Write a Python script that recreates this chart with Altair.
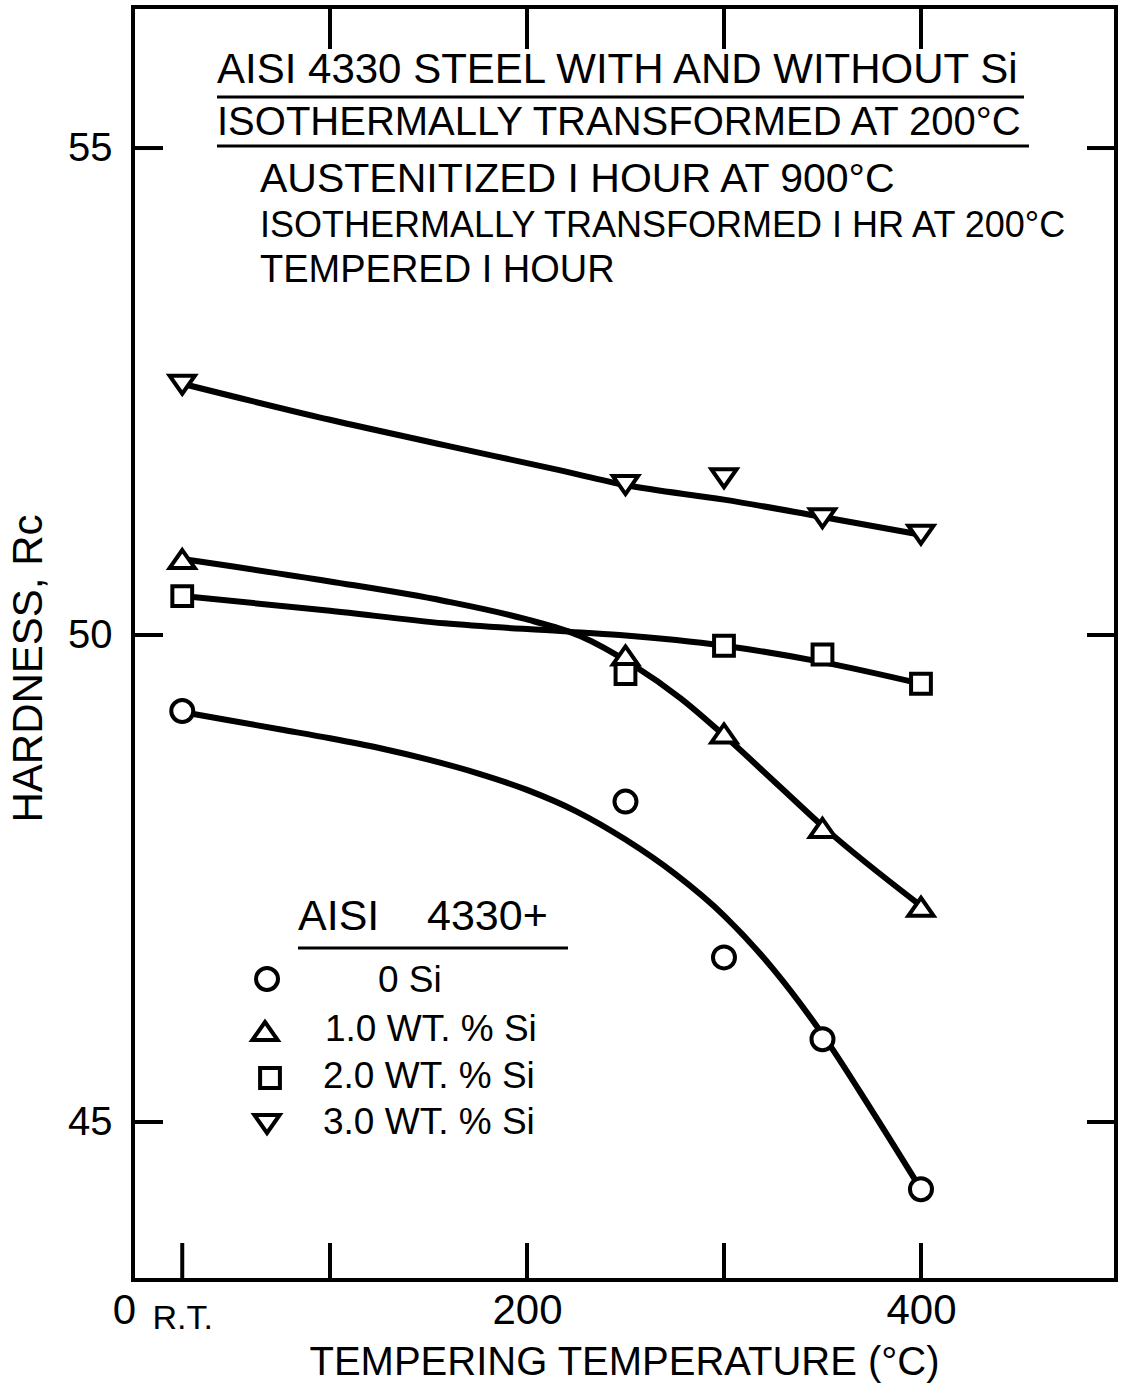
import altair as alt
import pandas as pd

FONT = "Liberation Sans"

# ---------------- data ----------------
temps = [25, 250, 300, 350, 400]          # tempering temperature, R.T. ~ 25 C
series_names = ["0 Si", "1.0 WT. % Si", "2.0 WT. % Si", "3.0 WT. % Si"]
hard_0si = [49.22, 48.29, 46.69, 45.85, 44.31]
hard_1si = [50.78, 49.79, 48.99, 48.02, 47.21]
hard_2si = [50.40, 49.60, 49.89, 49.80, 49.50]
hard_3si = [52.57, 51.54, 51.61, 51.20, 51.03]

# hand-drawn smooth curves through the points
curve_0si_x = [25, 50, 75, 100, 125, 150, 175, 200, 225, 250, 275, 300, 325, 350, 375, 400]
curve_0si_y = [49.21, 49.12, 49.03, 48.94, 48.84, 48.72, 48.58, 48.41, 48.19, 47.90, 47.55,
               47.12, 46.57, 45.90, 45.12, 44.31]
curve_1si_x = [25, 100, 158, 198, 227, 254, 278, 300, 328, 351, 400]
curve_1si_y = [50.78, 50.55, 50.35, 50.17, 49.99, 49.69, 49.35, 48.97, 48.45, 48.02, 47.22]
curve_2si_x = [25, 100, 158, 217, 247, 300, 348, 400]
curve_2si_y = [50.40, 50.25, 50.12, 50.04, 50.00, 49.89, 49.73, 49.50]
curve_3si_x = [25, 100, 158, 217, 250, 300, 348, 400]
curve_3si_y = [52.58, 52.21, 51.95, 51.69, 51.54, 51.39, 51.22, 51.03]

x_label_values = [0, 25, 200, 400]
x_bottom_ticks = [25, 100, 200, 300, 400]
x_top_ticks = [100, 200, 300, 400]
y_tick_values = [45, 50, 55]

title_lines = [
    "AISI 4330 STEEL WITH AND WITHOUT Si",
    "ISOTHERMALLY TRANSFORMED AT 200°C",
    "AUSTENITIZED I HOUR AT 900°C",
    "ISOTHERMALLY TRANSFORMED I HR AT 200°C",
    "TEMPERED I HOUR",
]
legend_title = "AISI\u00a0\u00a0\u00a0\u00a04330+"

# ---------------- tables ----------------
hards = [hard_0si, hard_1si, hard_2si, hard_3si]
pts = pd.DataFrame(
    [{"t": t, "h": h, "series": s} for s, hs in zip(series_names, hards) for t, h in zip(temps, hs)]
)
curves = [(curve_0si_x, curve_0si_y), (curve_1si_x, curve_1si_y),
          (curve_2si_x, curve_2si_y), (curve_3si_x, curve_3si_y)]
lines = pd.DataFrame(
    [{"t": t, "h": h, "series": s} for s, (cx, cy) in zip(series_names, curves) for t, h in zip(cx, cy)]
)

W, H = 983, 1273
xscale = alt.Scale(domain=[0, 499], nice=False, zero=False)
yscale = alt.Scale(domain=[43.378, 56.448], nice=False, zero=False)

tri_up = "M0,-0.82L1.15,0.82L-1.15,0.82Z"
tri_dn = "M0,0.82L1.15,-0.82L-1.15,-0.82Z"
sq = "M-0.9,-0.9H0.9V0.9H-0.9Z"
shapes = ["circle", tri_up, sq, tri_dn]

x_axis = alt.Axis(
    values=x_label_values, title="TEMPERING TEMPERATURE (°C)", grid=False, ticks=False, tickSize=0,
    domain=False, labelFlush=False, labelOverlap=False, labelBound=False,
    labelExpr="datum.value == 25 ? 'R.T.' : datum.label",
    labelFont=FONT, labelColor="black", labelBaseline="top",
    labelFontSize={"condition": {"test": "datum.value == 25", "value": 34}, "value": 42},
    labelOffset={"condition": {"test": "datum.value == 0", "value": -9}, "value": 0},
    labelPadding={"condition": {"test": "datum.value == 25", "value": 21}, "value": 10},
    titleFont=FONT, titleFontSize=40, titleFontWeight="normal", titleColor="black",
    titleX=491, titleY=82, titleBaseline="middle", titleAlign="center",
)
y_axis = alt.Axis(
    values=y_tick_values, format="d", title="HARDNESS, Rc", grid=False, ticks=False, tickSize=0,
    domain=False,
    labelFont=FONT, labelFontSize=40, labelColor="black", labelPadding=21, labelBaseline="middle",
    titleFont=FONT, titleFontSize=42, titleFontWeight="normal", titleColor="black",
    titleX=-105, titleY=661, titleAngle=270, titleAlign="center", titleBaseline="middle",
)

line_layer = alt.Chart(lines).mark_line(color="black", strokeWidth=6, interpolate="monotone").encode(
    x=alt.X("t:Q", scale=xscale, axis=x_axis),
    y=alt.Y("h:Q", scale=yscale, axis=y_axis),
    detail="series:N",
    order="t:Q",
)

point_layer = alt.Chart(pts).mark_point(
    fill="white", stroke="black", strokeWidth=4, opacity=1, fillOpacity=1, size=484
).encode(
    x=alt.X("t:Q", scale=xscale),
    y=alt.Y("h:Q", scale=yscale),
    shape=alt.Shape("series:N", scale=alt.Scale(domain=series_names, range=shapes), legend=None),
)

one = alt.Data(values=[{}])


def vrule_ticks(vals, y0, y1):
    df = pd.DataFrame({"t": vals})
    return alt.Chart(df).mark_rule(color="black", strokeWidth=4).encode(
        x=alt.X("t:Q", scale=xscale), y=alt.value(y0), y2=alt.value(y1))


def hrule_ticks(vals, x0, x1):
    df = pd.DataFrame({"h": vals})
    return alt.Chart(df).mark_rule(color="black", strokeWidth=4).encode(
        y=alt.Y("h:Q", scale=yscale), x=alt.value(x0), x2=alt.value(x1))


def txt(text, x, y, size):
    return alt.Chart(one).mark_text(
        text=text, align="left", baseline="alphabetic", font=FONT, fontSize=size, color="black"
    ).encode(x=alt.value(x), y=alt.value(y))


def uline(x0, x1, y, w=3):
    return alt.Chart(one).mark_rule(color="black", strokeWidth=w).encode(
        x=alt.value(x0), x2=alt.value(x1), y=alt.value(y))


def legend_symbol(shape, x, y):
    return alt.Chart(one).mark_point(
        shape=shape, fill="white", stroke="black", strokeWidth=4, opacity=1, fillOpacity=1, size=484
    ).encode(x=alt.value(x), y=alt.value(y))


# legend rows (pixel layout relative to plot origin)
legend_sym_x = [134, 132, 137, 134]
legend_row_y = [979, 1028, 1075, 1121]
legend_lbl_x = [245, 192, 190, 190]
legend_layers = []
for name, shp, sx, ry, lx in zip(series_names, shapes, legend_sym_x, legend_row_y, legend_lbl_x):
    legend_layers.append(legend_symbol(shp, sx, ry - 7 + (3 if shp != "circle" else 0)))
    legend_layers.append(txt(name, lx, ry + 6, 37))

layers = [
    line_layer,
    point_layer,
    vrule_ticks(x_bottom_ticks, H, H - 37),
    vrule_ticks(x_top_ticks, 0, 42),
    hrule_ticks(y_tick_values, 0, 30),
    hrule_ticks(y_tick_values, W, W - 29),
    txt(title_lines[0], 84, 76, 42),
    uline(84, 891, 90),
    txt(title_lines[1], 84, 128, 40),
    uline(84, 896, 139),
    txt(title_lines[2], 127, 185, 41),
    txt(title_lines[3], 127, 230, 36),
    txt(title_lines[4], 127, 275, 38),
    txt(legend_title, 165, 923, 43),
    uline(165, 435, 941),
] + legend_layers

chart = alt.layer(*layers).properties(
    width=W, height=H,
    autosize=alt.AutoSizeParams(type="none"),
    padding={"left": 133, "top": 7, "right": 6, "bottom": 108},
    background="white",
).configure_view(stroke="black", strokeWidth=4).configure_axis(domain=False)

chart.save("out.html", embed_options={"renderer": "svg", "actions": False})
